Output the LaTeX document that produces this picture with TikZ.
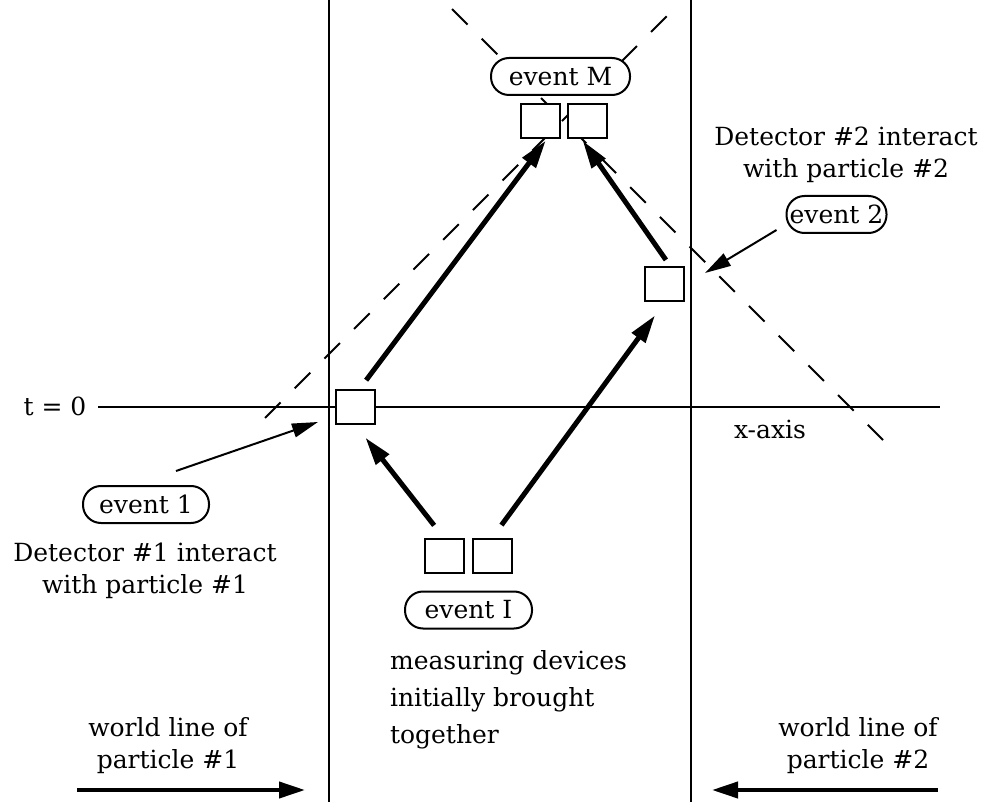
\documentclass[tikz,border=0pt]{standalone}
\usepackage{fontspec}
\setmainfont{DejaVu Serif}
\usetikzlibrary{arrows.meta}

\tikzset{
  detbox/.style={draw, fill=white, line width=1pt, minimum width=19.5pt, minimum height=17pt, inner sep=0pt},
  evlabel/.style={draw, fill=white, line width=1pt, rounded corners=9pt, minimum height=18.5pt, inner sep=1pt},
  lightcone/.style={line width=1pt, dash pattern=on 11pt off 10pt},
  axisline/.style={line width=1pt},
  pointer/.style={line width=1pt, -{Triangle[length=13pt,width=7pt]}},
  signal/.style={line width=2.5pt, -{Triangle[length=14pt,width=8pt]}},
  direction/.style={line width=2pt, -{Triangle[length=13pt,width=8pt]}}
}

\begin{document}
\begin{tikzpicture}[x=0.5pt, y=-0.5pt, font=\fontsize{12.5}{16}\selectfont]
\useasboundingbox (0,0) rectangle (985,802);

% ---------- light cones ----------
\draw[lightcone] (452,9) -- (883,440);
\draw[lightcone] (265,418) -- (668,15);

% ---------- world lines and x-axis ----------
\draw[axisline] (329,0) -- (329,802);
\draw[axisline] (690.5,0) -- (690.5,802);
\draw[axisline] (98,407) -- (940,407);
\node (tzero) at (55,406) {t = 0};
\node (xaxis) at (770,429) {x-axis};

% ---------- event I ----------
\node[detbox] (I1) at (444,556) {};
\node[detbox] (I2) at (492,556) {};
\node[evlabel, minimum width=63.5pt] (evI) at (468.5,610) {event I};
\node[anchor=west, align=left, font=\fontsize{12.5}{18.5}\selectfont] (evItxt) at (383,700) {measuring devices\\initially brought\\together};

% ---------- event 1 ----------
\node[detbox] (E1) at (355.5,407) {};
\node[evlabel, minimum width=63pt] (ev1) at (146,504.5) {event 1};
\node[align=center] (ev1txt) at (145,571) {Detector \#1 interact\\with particle \#1};
\coordinate (ev1pt) at (318,422);
\draw[pointer] ([shift={(-17pt,7pt)}]ev1.north east) -- (ev1pt);

% ---------- event 2 ----------
\node[detbox] (E2) at (664.5,284.5) {};
\node[evlabel, minimum width=50pt] (ev2) at (836.5,214.5) {event 2};
\node[align=center] (ev2txt) at (846,155) {Detector \#2 interact\\with particle \#2};
\coordinate (ev2pt) at (705,273);
\draw[pointer] ([shift={(-4.5pt,2pt)}]ev2.south west) -- (ev2pt);

% ---------- event M ----------
\node[detbox] (M1) at (540,121) {};
\node[detbox] (M2) at (587.5,121) {};
\node[evlabel, minimum width=69.5pt] (evM) at (560.5,76.5) {event M};

% ---------- signals ----------
\draw[signal, shorten <=8pt, shorten >=8pt] (I1.north) -- (E1.south);
\draw[signal, shorten <=8pt, shorten >=8pt] (I2.north) -- (E2.south);
\draw[signal, shorten <=5.5pt, shorten >=1pt] ([xshift=2pt]E1.north) -- ([xshift=3.5pt]M1.south);
\draw[signal, shorten <=4pt, shorten >=1pt] ([xshift=3pt]E2.north) -- ([xshift=-3pt]M2.south);

% ---------- world line labels ----------
\node[align=center] (wl1) at (168,746) {world line of\\particle \#1};
\node[align=center] (wl2) at (858,746) {world line of\\particle \#2};
\coordinate (wl1a) at (77,790);
\coordinate (wl1b) at (305,790);
\coordinate (wl2a) at (938,790);
\coordinate (wl2b) at (712,790);
\draw[direction] (wl1a) -- (wl1b);
\draw[direction] (wl2a) -- (wl2b);

\end{tikzpicture}
\end{document}
